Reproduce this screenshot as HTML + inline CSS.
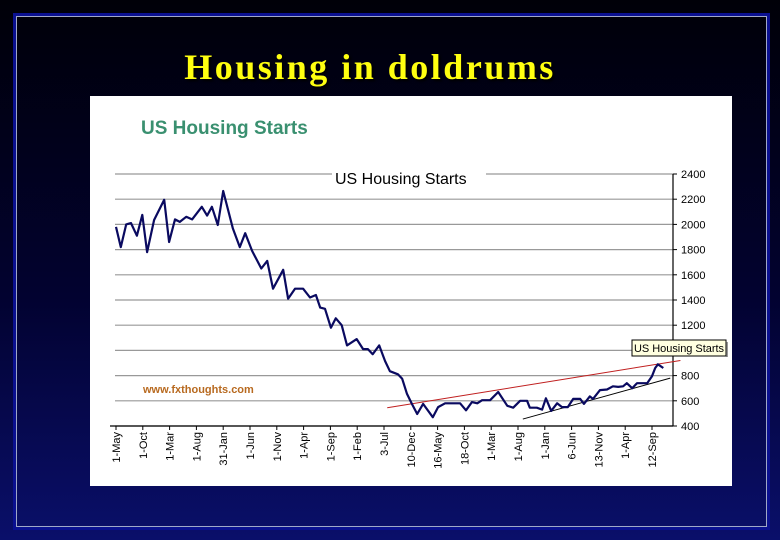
<!DOCTYPE html>
<html><head><meta charset="utf-8"><style>
html,body{margin:0;padding:0;width:780px;height:540px;overflow:hidden;}
body{background:linear-gradient(180deg,#000008 0%,#020230 55%,#0a0f6a 100%);position:relative;font-family:"Liberation Sans",sans-serif;}
#frame{position:absolute;left:13px;top:13px;width:751px;height:511px;border:3px solid #0a1090;}
#frame2{position:absolute;left:16px;top:16px;width:749px;height:509px;border:1px solid #a0a8c8;}
#title{position:absolute;left:0;width:740px;top:46px;text-align:center;font-family:"Liberation Serif",serif;font-weight:bold;font-size:36px;letter-spacing:2.5px;color:#ffff10;text-shadow:2px 2px 2px #000;}
#card{position:absolute;left:90px;top:96px;width:642px;height:390px;background:#fff;}
</style></head><body>
<div id="frame"></div>
<div id="frame2"></div>
<div id="title">Housing in doldrums</div>
<div id="card"></div>
<svg id="chart" width="780" height="540" style="position:absolute;left:0;top:0"></svg>
<script>
const xLabels=["1-May","1-Oct","1-Mar","1-Aug","31-Jan","1-Jun","1-Nov","1-Apr","1-Sep","1-Feb","3-Jul","10-Dec","16-May","18-Oct","1-Mar","1-Aug","1-Jan","6-Jun","13-Nov","1-Apr","12-Sep"];
const yTicks=[400,600,800,1000,1200,1400,1600,1800,2000,2200,2400];
const yTickLabels=["400","600","800","","1200","1400","1600","1800","2000","2200","2400"];
const months=[0,0.9,1.9,2.8,3.9,4.9,5.8,7.1,9.0,9.9,11.0,11.9,13.1,14.2,16.0,17.0,17.9,19.0,20.0,21.8,23.1,24.1,25.4,27.1,28.2,29.3,31.2,32.1,33.4,34.9,36.2,37.3,38.1,39.0,40.1,41.0,42.1,43.1,44.9,46.1,47.0,47.9,49.1,50.2,51.1,52.6,53.4,54.3,55.2,56.2,57.3,59.1,60.1,61.4,64.2,65.3,66.4,67.4,68.3,69.8,71.3,73.0,74.1,75.4,76.7,77.2,78.5,79.5,80.2,81.2,82.3,83.2,84.3,85.3,86.6,87.3,88.4,89.0,90.3,91.6,92.7,93.7,94.6,95.3,96.3,97.2,98.1,99.1,100.0,100.6,101.1,102.1];
const starts=[1980,1820,2000,2010,1910,2075,1780,2035,2195,1860,2040,2020,2060,2040,2140,2070,2140,1995,2265,1970,1820,1930,1790,1650,1710,1490,1640,1410,1490,1490,1420,1440,1340,1330,1180,1255,1200,1040,1090,1010,1010,970,1040,915,835,810,775,655,575,495,575,470,550,580,580,525,590,580,605,605,670,560,545,600,600,545,545,530,620,520,580,550,550,615,615,575,635,615,685,690,715,710,715,740,700,740,740,740,795,860,890,860];
const n=Math.min(months.length,starts.length);
const redTrendM=[50.6,105.3]; const redTrendV=[545,920];
const blackTrendM=[75.9,103.4]; const blackTrendV=[455,780];
const X0=116,XS=5.36,YB=426,YT=174,VMIN=400,VMAX=2400;
const xs=m=>X0+m*XS; const ys=v=>YB-(v-VMIN)/(VMAX-VMIN)*(YB-YT);
const svg=document.getElementById('chart');const NS="http://www.w3.org/2000/svg";
function mk(t,a,p){const e=document.createElementNS(NS,t);for(const k in a)e.setAttribute(k,a[k]);(p||svg).appendChild(e);return e;}
let e;
e=mk('text',{x:141,y:134,'font-size':19,'font-weight':'bold',fill:'#3a9070','font-family':'Liberation Sans, sans-serif'});e.textContent='US Housing Starts';


yTicks.forEach((v,i)=>{
 const g=mk('line',{x1:115,x2:673,y1:ys(v),y2:ys(v),stroke:'#999','stroke-width':1.2});
 
 
 mk('line',{x1:673,x2:677,y1:ys(v),y2:ys(v),stroke:'#000'});
 const t=mk('text',{x:681,y:ys(v)+4,'font-size':11,fill:'#000','font-family':'Liberation Sans, sans-serif'});t.textContent=yTickLabels[i];
 
 
});
e=mk('rect',{x:332,y:168,width:154,height:20,fill:'#fff'});
e=mk('text',{x:335,y:184,'font-size':16,fill:'#000','font-family':'Liberation Sans, sans-serif'});e.textContent='US Housing Starts';


e=mk('line',{x1:673,x2:673,y1:ys(VMAX),y2:ys(VMIN),stroke:'#000','stroke-width':1.2});


e=mk('line',{x1:110,x2:673,y1:YB,y2:YB,stroke:'#000','stroke-width':1.2});


xLabels.forEach((l,i)=>{
 const x=xs(i*5);
 mk('line',{x1:x,x2:x,y1:YB,y2:YB+4,stroke:'#000'});
 const t=mk('text',{x:0,y:0,'font-size':11,fill:'#000','text-anchor':'end','font-family':'Liberation Sans, sans-serif',transform:`translate(${x+4},${YB+6}) rotate(-90)`});t.textContent=l;
 
 
});
e=mk('text',{x:143,y:393,'font-size':11,'font-weight':'bold',fill:'#b86a20','font-family':'Liberation Sans, sans-serif'});e.textContent='www.fxthoughts.com';


e=mk('line',{x1:xs(redTrendM[0]),y1:ys(redTrendV[0]),x2:xs(redTrendM[1]),y2:ys(redTrendV[1]),stroke:'#c02020','stroke-width':1});


e=mk('line',{x1:xs(blackTrendM[0]),y1:ys(blackTrendV[0]),x2:xs(blackTrendM[1]),y2:ys(blackTrendV[1]),stroke:'#000','stroke-width':1});


let d='';
for(let i=0;i<n;i++)d+=(i?'L':'M')+xs(months[i]).toFixed(1)+','+ys(starts[i]).toFixed(1);
e=mk('path',{d:d,fill:'none',stroke:'#0a0a60','stroke-width':2.2,'stroke-linejoin':'round'});


e=mk('rect',{x:632,y:340,width:94,height:16,fill:'#ffffe0',stroke:'#000','stroke-width':1});


mk('line',{x1:727,y1:342,x2:727,y2:357,stroke:'#777','stroke-width':1.5});
e=mk('text',{x:634,y:352,'font-size':11,fill:'#000','font-family':'Liberation Sans, sans-serif',textLength:90});e.textContent='US Housing Starts';


</script>
</body></html>
